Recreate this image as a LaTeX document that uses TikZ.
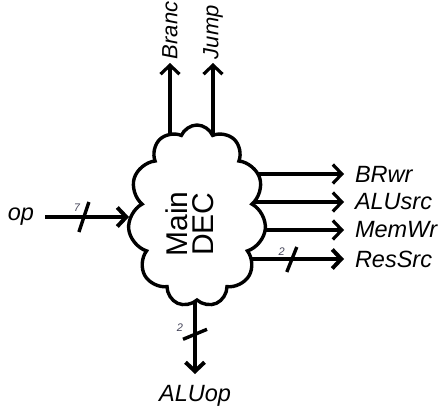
\documentclass[tikz,border=0pt]{standalone}
\usepackage{fontspec}
\setmainfont{Liberation Sans}
\usepackage{tikz}
\usetikzlibrary{shapes.symbols}
\usetikzlibrary{arrows.meta}
\usetikzlibrary{backgrounds}

\definecolor{numgray}{RGB}{70,70,90}

\tikzset{
   sig/.style={line width=3.2pt, -{Straight Barb[length=9pt,width=19pt]}},
   bus/.style={sig, line width=4pt},
   slash/.style={line width=3.4pt},
   siglabel/.style={inner sep=0pt, outer sep=0pt, font=\fontsize{23.5}{28}\selectfont\itshape},
   buswidth/.style={inner sep=0pt, text=numgray, font=\fontsize{11}{12}\selectfont\itshape}
}

\begin{document}
\begin{tikzpicture}[x=1pt,y=-1pt]
   \useasboundingbox (0,0) rectangle (441,407);

   \node[cloud, draw, style={
      cloud puffs=11,
      cloud puff arc=135,
      cloud ignores aspect,
      minimum width=138pt,
      minimum height=182pt,
      line width=3.4pt,
      fill=white,
      inner sep=0pt
   }] (dec) at (197,216) {};

   \node[rotate=90, align=center, style={
      inner sep=0pt,
      font=\fontsize{30}{26}\selectfont
   }] (dectext) at (190,224) {Main\\DEC};

   % outputs on the right
   \node[siglabel, anchor=west] (brwr) at (355,174) {BRwr};
   \node[siglabel, anchor=west] (alusrc) at (355,202) {ALUsrc};
   \node[siglabel, anchor=west] (memwr) at (355,230) {MemWr};
   \node[siglabel, anchor=west] (ressrc) at (355,259) {ResSrc};

   % outputs on top and bottom
   \node[siglabel, rotate=90, anchor=west, font=\fontsize{22}{26}\selectfont\itshape] (branch) at (170,59) {Branc};
   \node[siglabel, rotate=90, anchor=west, font=\fontsize{22}{26}\selectfont\itshape] (jump) at (213,59) {Jump};
   \node[siglabel, anchor=north] (aluop) at (195,385) {ALUop};

   % input
   \node[siglabel, anchor=east] (op) at (34,217) {op};

   \begin{scope}[on background layer]
      \foreach \name in {brwr,alusrc,memwr}
      \draw[sig, shorten >=11pt] (dec.center |- \name.west) -- (\name.west);
      \draw[bus, shorten >=11pt] (dec.center |- ressrc.west) -- (ressrc.west)
         coordinate[pos=0.6] (resbus);
      \draw[sig, shorten >=4pt] (branch.west |- dec.center) -- (branch.west);
      \draw[sig, shorten >=4pt] (jump.west |- dec.center) -- (jump.west);
      \draw[bus, shorten >=11pt] (aluop.north |- dec.center) -- (aluop.north)
         coordinate[pos=0.7] (alubus);
   \end{scope}

   \draw[bus, shorten <=11pt] (op.east) -- (op.east -| dec.west)
      coordinate[pos=0.525] (opbus);

   % bus widths
   \draw[slash] ([shift={(-5,15)}]opbus) -- ([shift={(5,-15)}]opbus);
   \node[buswidth] (opw) at ([shift={(-7,-9)}]opbus) {7};
   \draw[slash] ([shift={(-5,13)}]resbus) -- ([shift={(5,-12)}]resbus);
   \node[buswidth] (resw) at ([shift={(-10,-7)}]resbus) {2};
   \draw[slash] ([shift={(-12,5)}]alubus) -- ([shift={(12,-5)}]alubus);
   \node[buswidth] (aluw) at ([shift={(-15,-7)}]alubus) {2};
\end{tikzpicture}
\end{document}
